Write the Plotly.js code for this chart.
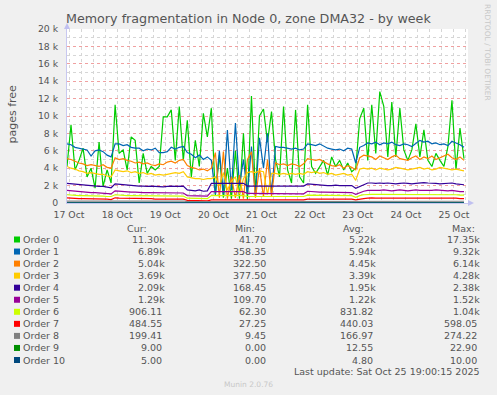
<!DOCTYPE html>
<html>
<head>
<meta charset="utf-8">
<script src="https://cdn.plot.ly/plotly-3.0.1.min.js"></script>
<style>
  html, body { margin: 0; padding: 0; background: #F0F0F0; }
  #chart { width: 497px; height: 395px; }
</style>
</head>
<body>
<div id="chart"></div>
<script>
// ---- DATA ----
const seriesNames = ['Order 0','Order 1','Order 2','Order 3','Order 4','Order 5','Order 6','Order 7','Order 8','Order 9','Order 10'];
const seriesColors = ['#00CC00','#0066B3','#FF8000','#FFCC00','#330099','#990099','#CCFF00','#FF0000','#808080','#008F00','#00487D'];

// samples every 2 hours starting 17 Oct 11:00
const order0 = [4200,9000,3800,4900,6300,3000,4000,1700,7000,1900,
  3800,2300,11300,5700,6100,3800,7600,7200,2300,5700,
  3400,4200,3800,4200,9900,9900,10700,4900,11100,4900,
  9500,3000,7200,4200,10300,7600,10900,800,5500,600,
  4000,500,6000,500,8000,400,12300,1000,10000,10800,
  7000,10500,5000,3000,11100,3800,2300,10700,3000,2300,
  11300,4200,3400,4200,4900,3200,5300,4200,4900,3800,
  4600,3600,4000,9700,10900,4900,11300,5700,12800,11100,
  5300,11600,5300,10900,6100,4900,6100,9100,5300,8400,
  4900,4200,5700,4900,4200,6500,11800,3800,8600,5100];
const order1 = [6800,6700,6400,6300,6200,6100,5400,6000,6100,5900,
  5500,5300,6800,6800,6600,6700,6400,6300,6300,6000,
  6200,6100,6300,5800,5800,5900,6400,6200,6400,6500,
  5800,5600,5200,5500,5000,5300,4900,1000,6000,1000,
  8400,1500,9200,2000,5000,1000,6500,800,7500,4000,
  8000,1000,6500,6400,6400,6300,6200,6300,6100,6200,
  6800,6700,6600,6800,6500,6300,6200,6100,6200,6000,
  6300,6200,4600,6400,6600,6900,6800,7000,6700,6900,
  6800,7000,6700,6600,6800,6700,6500,6900,7200,7000,
  7100,6800,6900,6700,6800,6600,7100,6900,6700,6400];
const order2 = [5100,5000,4800,4600,4500,4300,4400,4300,4200,4400,
  4100,4000,5200,5000,5100,4900,4800,4600,4700,4500,
  4600,4400,4300,4500,4400,4700,4800,4600,4900,5000,
  4300,4100,4000,3800,3900,3700,4000,5800,600,5900,
  500,3000,600,3200,500,5000,5900,600,4000,700,
  5000,800,4600,4400,4500,4300,4500,4400,4200,4500,
  5100,5000,4900,5000,4700,4500,4300,4200,4400,4000,
  4300,4100,3800,5200,5500,5400,5300,5000,5400,5200,
  5000,5300,5500,5100,5000,4900,5200,5400,5000,5300,
  5100,5400,5000,5200,5400,5600,5200,5000,5300,4900];
const order3 = [4200,4000,3900,3700,3600,3400,3500,3400,3300,3300,
  3100,3000,3800,3700,3600,3700,3500,3600,3400,3500,
  3300,3400,3200,3300,3200,3300,3400,3500,3400,3600,
  3000,2900,2800,2800,2700,2800,2800,3000,2000,3500,
  1500,2500,3000,1000,2800,3500,3600,3500,3700,3600,
  1000,3400,3400,3300,3400,3300,3400,3300,3400,3300,
  3600,3500,3600,3400,3500,3300,3400,3200,3300,3400,
  3200,3300,2600,3900,4000,3900,4000,3800,4000,3900,
  3800,3900,4100,4000,3900,3800,3900,4000,4100,3900,
  4000,3800,3900,4100,4000,3900,3800,3900,3800,3700];
const order4 = [2250,2200,2150,2100,2050,2000,2000,1950,1900,1900,
  1850,1750,2200,2150,2100,2050,2000,2000,1950,1950,
  1900,1950,1900,1900,1850,1900,1950,1900,1950,1950,
  1500,1450,1400,1500,1350,1400,2260,2260,2260,2260,
  2260,2260,2260,2260,2260,1950,1950,1900,1950,1950,
  1900,1950,1900,1900,1950,1900,1950,1900,1900,1950,
  2200,2150,2100,2100,2050,2000,2000,2050,2000,2000,
  2050,2000,1700,1900,2100,2300,2300,2250,2300,2250,
  2300,2250,2200,2250,2300,2250,2200,2250,2300,2350,
  2300,2300,2250,2200,2250,2300,2300,2200,2150,2100];
const order5 = [1450,1400,1350,1300,1300,1250,1200,1200,1150,1150,
  1100,1050,1400,1350,1300,1300,1250,1250,1200,1200,
  1200,1200,1150,1150,1200,1200,1200,1200,1150,1150,
  850,850,800,850,800,800,1300,1300,1300,1300,
  1300,1300,1300,1300,1300,1100,1100,1100,1100,1100,
  1050,1050,1050,1050,1050,1050,1050,1050,1050,1050,
  1350,1300,1300,1250,1250,1250,1200,1200,1250,1200,
  1200,1200,1000,1200,1350,1450,1450,1400,1450,1500,
  1450,1400,1450,1500,1450,1400,1450,1500,1450,1450,
  1400,1450,1500,1450,1400,1400,1450,1350,1300,1300];
const order6 = [950,900,900,850,850,850,800,800,800,800,
  750,750,950,900,900,850,850,850,850,800,
  850,800,800,800,850,800,800,800,800,800,
  550,550,500,550,500,500,850,850,850,850,
  850,850,850,850,850,750,750,750,750,750,
  750,750,750,750,750,750,750,750,750,750,
  900,900,900,900,850,850,850,850,850,850,
  850,850,650,850,950,1000,1000,1000,1000,1000,
  1000,950,1000,1000,1000,950,1000,1000,1000,950,
  1000,1000,950,950,1000,1000,950,950,900,900];
const order7 = [600,550,550,500,500,500,500,450,450,450,
  450,400,600,550,550,500,500,500,500,500,
  500,500,450,450,500,500,450,450,450,450,
  300,300,250,300,300,250,350,350,350,350,
  350,350,350,350,350,350,350,350,350,350,
  350,350,350,350,350,350,350,350,350,350,
  450,450,450,450,450,450,450,450,450,450,
  450,450,350,450,500,550,600,550,550,600,
  550,550,600,550,550,600,550,550,600,600,
  550,550,600,550,550,600,550,550,500,500];
const order8 = [220,220,220,220,220,210,210,210,210,210,
  200,200,250,250,250,250,250,240,240,240,
  240,240,240,230,230,230,230,230,230,230,
  150,150,150,150,150,150,200,200,200,200,
  200,200,200,200,200,200,200,200,200,200,
  200,200,200,200,200,200,200,200,200,200,
  220,220,220,220,220,220,210,210,210,210,
  210,210,150,200,200,200,200,200,200,200,
  200,200,200,200,200,200,200,200,200,200,
  200,200,200,200,200,200,200,200,200,200];
const order9 = [15,15,14,14,13,13,12,12,12,12,
  12,12,16,15,15,14,14,13,13,13,
  13,13,12,12,12,12,12,12,12,12,
  8,8,8,8,8,8,12,12,12,12,
  12,12,12,12,12,10,10,10,10,10,
  10,10,10,10,10,10,10,10,10,10,
  14,14,13,13,13,13,12,12,12,12,
  12,12,8,12,14,14,14,14,13,13,
  13,13,13,13,12,12,12,12,12,12,
  11,11,11,10,10,10,10,9,9,9];
const order10 = [6,6,6,6,5,5,5,5,5,5,
  5,5,6,6,6,6,5,5,5,5,
  5,5,5,5,5,5,5,5,5,5,
  3,3,3,3,3,3,5,5,5,5,
  5,5,5,5,5,4,4,4,4,4,
  4,4,4,4,4,4,4,4,4,4,
  6,6,6,5,5,5,5,5,5,5,
  5,5,3,5,5,6,6,6,6,6,
  5,5,5,5,5,5,5,5,5,5,
  5,5,5,5,5,5,5,5,5,5];

const curVals = ['11.30k','6.89k','5.04k','3.69k','2.09k','1.29k','906.11','484.55','199.41','9.00','5.00'];
const minVals = ['41.70','358.35','322.50','377.50','168.45','109.70','62.30','27.25','9.45','0.00','0.00'];
const avgVals = ['5.22k','5.94k','4.45k','3.39k','1.95k','1.22k','831.82','440.03','166.97','12.55','4.80'];
const maxVals = ['17.35k','9.32k','6.14k','4.28k','2.38k','1.52k','1.04k','598.05','274.22','22.90','10.00'];

const dayLabels = ['17 Oct','18 Oct','19 Oct','20 Oct','21 Oct','22 Oct','23 Oct','24 Oct','25 Oct'];
const yTickVals = [0,2000,4000,6000,8000,10000,12000,14000,16000,18000,20000];
const yTickLabels = ['0','2 k','4 k','6 k','8 k','10 k','12 k','14 k','16 k','18 k','20 k'];

const titleText = 'Memory fragmentation in Node 0, zone DMA32 - by week';
const yTitle = 'pages free';
const lastUpdate = 'Last update: Sat Oct 25 19:00:15 2025';
const footer = 'Munin 2.0.76';
const sideText = 'RRDTOOL / TOBI OETIKER';

// ---- TIME AXIS ----
const startMs = Date.UTC(2025, 9, 17, 11, 0, 0);
const endMs = Date.UTC(2025, 9, 25, 19, 0, 0);
const stepMs = 2 * 3600 * 1000;
const pad = n => String(n).padStart(2, '0');
const fmt = ms => { const d = new Date(ms); return d.getUTCFullYear() + '-' + pad(d.getUTCMonth()+1) + '-' + pad(d.getUTCDate()) + ' ' + pad(d.getUTCHours()) + ':' + pad(d.getUTCMinutes()) + ':00'; };
const allSeries = [order0, order1, order2, order3, order4, order5, order6, order7, order8, order9, order10];
const times = order0.map((_, i) => fmt(startMs + i * stepMs));
const dayNoon = dayLabels.map((_, i) => fmt(Date.UTC(2025, 9, 17 + i, 12, 0, 0)));

const traces = allSeries.map((s, k) => ({
  type: 'scatter', mode: 'lines', x: times, y: s, name: seriesNames[k],
  line: { color: seriesColors[k], width: 1.2 }, hoverinfo: 'skip', showlegend: false,
  xaxis: 'x', yaxis: 'y'
}));

// ---- LAYOUT (pixel helpers) ----
const L = 67, R = 468, T = 29, B = 203, W = 497, H = 395;
const px = x => (x - L) / (R - L);
const py = y => (B - y) / (B - T);
const font = 'DejaVu Sans, sans-serif';
const txt = '#555555';

const ann = [];
const shapes = [];
const headers = [['Cur:', 149], ['Min:', 257.3], ['Avg:', 366], ['Max:', 476.7]];
headers.forEach(h => ann.push({ xref: 'paper', yref: 'paper', x: px(h[1]), y: py(228), text: h[0], showarrow: false, xanchor: 'right', yanchor: 'middle', font: { family: font, size: 9.5, color: txt } }));
const colRight = [166.7, 271, 377.7, 482.3];
const cols = [curVals, minVals, avgVals, maxVals];
seriesNames.forEach((name, i) => {
  const yc = 239.5 + i * 12.05;
  shapes.push({ type: 'rect', xref: 'paper', yref: 'paper', x0: px(14), x1: px(20), y0: py(yc - 3), y1: py(yc + 3), fillcolor: seriesColors[i], line: { width: 0 } });
  ann.push({ xref: 'paper', yref: 'paper', x: px(20.5), y: py(yc), text: name, showarrow: false, xanchor: 'left', yanchor: 'middle', font: { family: font, size: 9.5, color: txt } });
  cols.forEach((c, j) => {
    const v = c[i];
    const shift = v.endsWith('k') ? 0 : 3;
    ann.push({ xref: 'paper', yref: 'paper', x: px(colRight[j] - shift), y: py(yc), text: v, showarrow: false, xanchor: 'right', yanchor: 'middle', font: { family: font, size: 9.5, color: txt } });
  });
});
ann.push({ xref: 'paper', yref: 'paper', x: px(482.3), y: py(371), text: lastUpdate, showarrow: false, xanchor: 'right', yanchor: 'middle', font: { family: font, size: 9.5, color: txt } });
ann.push({ xref: 'paper', yref: 'paper', x: px(248), y: py(384.5), text: footer, showarrow: false, xanchor: 'center', yanchor: 'middle', font: { family: font, size: 7.5, color: '#c8c8c8' } });
ann.push({ xref: 'paper', yref: 'paper', x: px(488), y: py(52), text: sideText, showarrow: false, xanchor: 'center', yanchor: 'middle', textangle: 90, font: { family: font, size: 7.5, color: '#c8c8c8' } });
ann.push({ xref: 'paper', yref: 'paper', x: px(248.5), y: py(19), text: titleText, showarrow: false, xanchor: 'center', yanchor: 'middle', font: { family: font, size: 12.7, color: txt } });
ann.push({ xref: 'paper', yref: 'paper', x: px(11.5), y: py(114), text: yTitle, showarrow: false, xanchor: 'center', yanchor: 'middle', textangle: -90, font: { family: font, size: 11, color: txt } });

// axis arrow heads (decoration)
const tri = pts => 'M ' + pts.map(p => px(p[0]) + ',' + py(p[1])).join(' L ') + ' Z';
shapes.push({ type: 'path', xref: 'paper', yref: 'paper', path: tri([[64, 29], [70, 29], [67, 23]]), fillcolor: '#c0c0f0', line: { width: 0 } });
shapes.push({ type: 'path', xref: 'paper', yref: 'paper', path: tri([[468, 200], [468, 206], [474, 203]]), fillcolor: '#c0c0f0', line: { width: 0 } });

const layout = {
  width: W, height: H,
  margin: { l: L, r: W - R, t: T, b: H - B, pad: 0 },
  paper_bgcolor: '#F0F0F0', plot_bgcolor: '#FFFFFF',
  showlegend: false,
  xaxis: {
    type: 'date', range: [fmt(startMs), fmt(endMs)],
    tickmode: 'array', tickvals: dayNoon, ticktext: dayLabels,
    showgrid: false, zeroline: false, showline: true, linecolor: '#c8c8f0', linewidth: 1,
    ticks: 'outside', ticklen: 3, tickcolor: 'rgba(0,0,0,0)',
    tickfont: { family: font, size: 9.3, color: txt },
    minor: { tick0: '2025-10-17 00:00:00', dtick: 6 * 3600 * 1000, showgrid: true, gridcolor: '#d6d6d6', griddash: 'dot', gridwidth: 1, ticks: '' },
    fixedrange: true
  },
  xaxis2: {
    type: 'date', overlaying: 'x', anchor: 'y', side: 'bottom', range: [fmt(startMs), fmt(endMs)],
    tick0: '2025-10-17 00:00:00', dtick: 86400000, showgrid: true, gridcolor: '#f0a0a0', griddash: 'dot', gridwidth: 1,
    showticklabels: false, ticks: '', showline: false, zeroline: false, fixedrange: true
  },
  yaxis: {
    range: [0, 20000], tickmode: 'array', tickvals: yTickVals, ticktext: yTickLabels,
    showgrid: true, gridcolor: '#f0a0a0', griddash: 'dot', gridwidth: 1,
    minor: { dtick: 1000, showgrid: true, gridcolor: '#d6d6d6', griddash: 'dot', gridwidth: 1, ticks: '' },
    zeroline: false, showline: true, linecolor: '#c8c8f0', linewidth: 1,
    ticks: 'outside', ticklen: 6, tickcolor: 'rgba(0,0,0,0)',
    tickfont: { family: font, size: 9.3, color: txt }, fixedrange: true
  },
  annotations: ann,
  shapes: shapes
};

Plotly.newPlot('chart', traces, layout, { staticPlot: true, displayModeBar: false });
</script>
</body>
</html>
